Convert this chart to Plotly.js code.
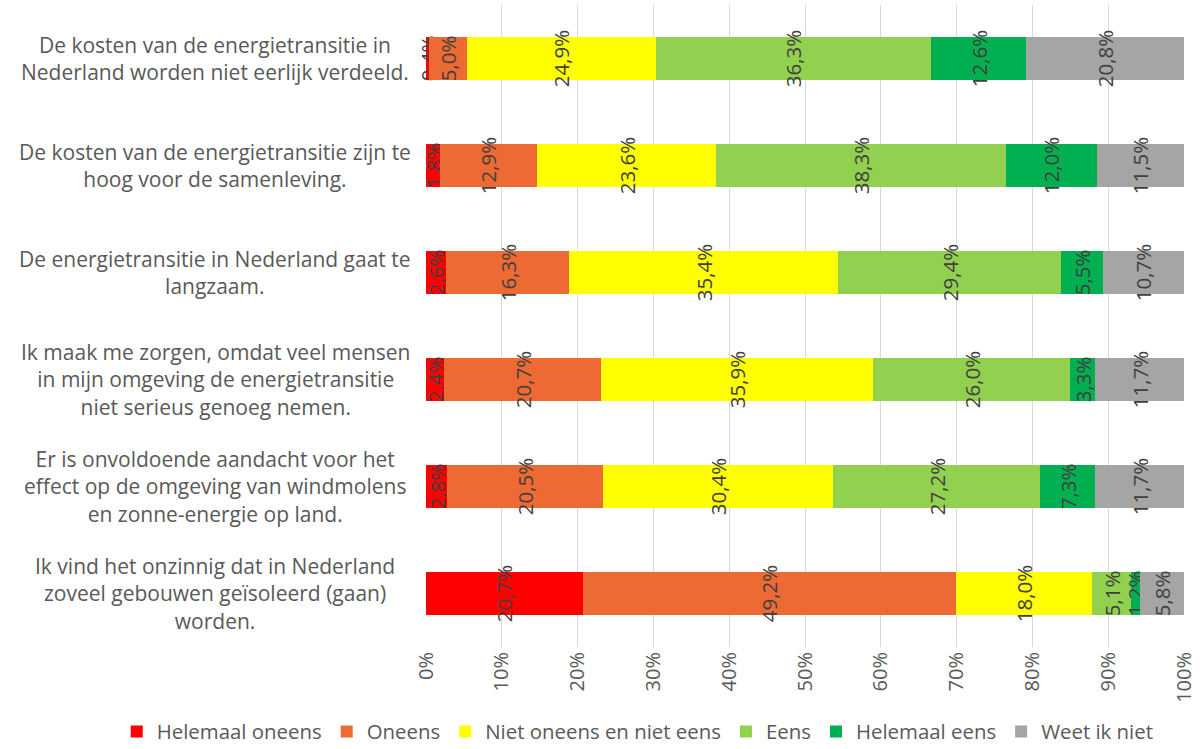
<!DOCTYPE html>
<html>
<head>
<meta charset="utf-8">
<script src="https://cdn.plot.ly/plotly-3.0.1.min.js"></script>
<style>html,body{margin:0;padding:0;background:#fff;}#chart{width:1201px;height:749px;}</style>
</head>
<body>
<div id="chart"></div>
<script>
const categories = [
  "De kosten van de energietransitie in<br>Nederland worden niet eerlijk verdeeld.",
  "De kosten van de energietransitie zijn te<br>hoog voor de samenleving.",
  "De energietransitie in Nederland gaat te<br>langzaam.",
  "Ik maak me zorgen, omdat veel mensen<br>in mijn omgeving de energietransitie<br>niet serieus genoeg nemen.",
  "Er is onvoldoende aandacht voor het<br>effect op de omgeving van windmolens<br>en zonne-energie op land.",
  "Ik vind het onzinnig dat in Nederland<br>zoveel gebouwen geïsoleerd (gaan)<br>worden."
];
const seriesNames = ["Helemaal oneens","Oneens","Niet oneens en niet eens","Eens","Helemaal eens","Weet ik niet"];
const helemaalOneens = [0.4, 1.8, 2.6, 2.4, 2.8, 20.7];
const oneens         = [5.0, 12.9, 16.3, 20.7, 20.5, 49.2];
const neutraal       = [24.9, 23.6, 35.4, 35.9, 30.4, 18.0];
const eens           = [36.3, 38.3, 29.4, 26.0, 27.2, 5.1];
const helemaalEens   = [12.6, 12.0, 5.5, 3.3, 7.3, 1.2];
const weetIkNiet     = [20.8, 11.5, 10.7, 11.7, 11.7, 5.8];
const tickValues = [0,10,20,30,40,50,60,70,80,90,100];
const tickLabels = ["0%","10%","20%","30%","40%","50%","60%","70%","80%","90%","100%"];

const colors = ["#FF0000","#EE6A34","#FFFF00","#92D050","#00B050","#A5A5A5"];
const allSeries = [helemaalOneens, oneens, neutraal, eens, helemaalEens, weetIkNiet];
const FONT = "'Open Sans', 'Noto Sans', sans-serif";

const fmt = v => v.toFixed(1).replace('.', ',') + '%';

const traces = allSeries.map((vals, i) => ({
  type: 'bar',
  orientation: 'h',
  name: seriesNames[i],
  y: categories,
  x: vals,
  marker: {color: colors[i], line: {width: 0}},
  text: vals.map(fmt),
  textposition: 'inside',
  insidetextanchor: 'middle',
  textangle: -90,
  constraintext: 'none',
  cliponaxis: false,
  textfont: {family: FONT, size: 20.5, color: '#404040'},
  hoverinfo: 'skip'
}));

const annotations = categories.map(c => ({
  xref: 'paper', yref: 'y',
  x: -0.278, y: c,
  xanchor: 'center', yanchor: 'middle',
  text: c, showarrow: false, align: 'center',
  font: {family: FONT, size: 21, color: '#595959'}
}));

const layout = {
  width: 1201, height: 749,
  margin: {l: 426, r: 17, t: 5, b: 102, autoexpand: false},
  barmode: 'stack',
  barnorm: 'percent',
  bargap: 0.6,
  paper_bgcolor: '#ffffff',
  plot_bgcolor: '#ffffff',
  showlegend: true,
  legend: {
    orientation: 'h',
    x: -0.408, xanchor: 'left', y: -0.132, yanchor: 'middle',
    font: {family: FONT, size: 20.4, color: '#595959'},
    traceorder: 'normal', itemwidth: 30, tracegroupgap: 0
  },
  xaxis: {
    range: [0, 100], tickvals: tickValues, ticktext: tickLabels,
    tickangle: -90, showgrid: true, gridcolor: '#D9D9D9', gridwidth: 1,
    zeroline: false, showline: false, ticks: '', automargin: false,
    tickfont: {family: FONT, size: 20, color: '#595959'}, fixedrange: true
  },
  yaxis: {
    type: 'category', autorange: 'reversed', showticklabels: false, automargin: false,
    showgrid: false, zeroline: false, showline: false, ticks: '', fixedrange: true
  },
  annotations: annotations
};

Plotly.newPlot('chart', traces, layout, {displayModeBar: false, staticPlot: true});
</script>
</body>
</html>
